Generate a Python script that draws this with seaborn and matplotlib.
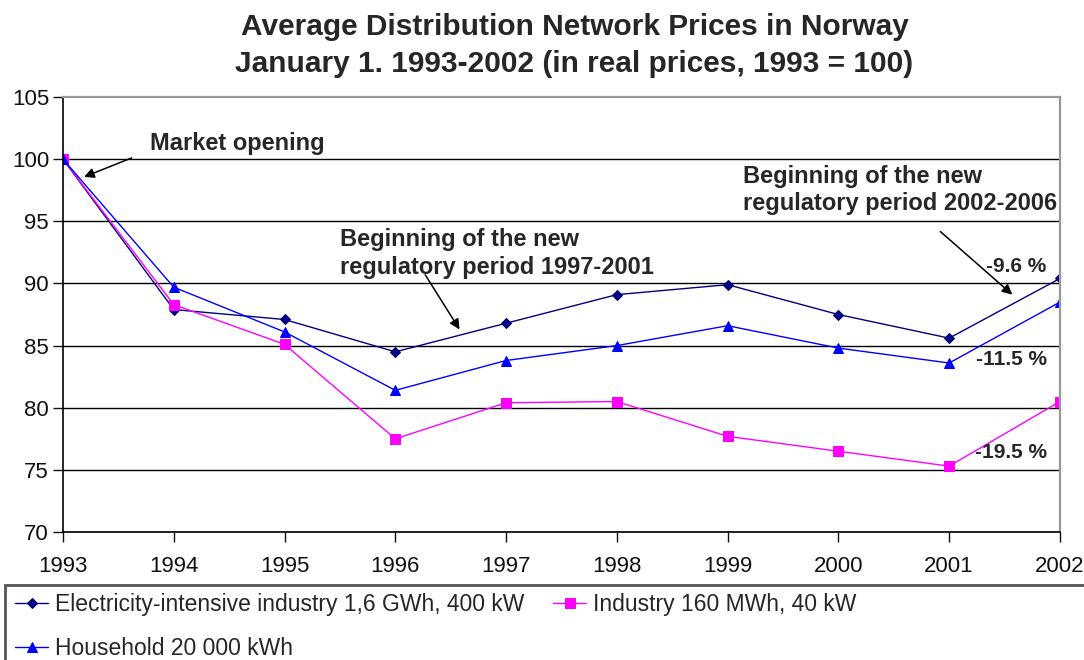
import pandas as pd
import matplotlib
matplotlib.use("Agg")
import matplotlib.pyplot as plt
import seaborn as sns
from matplotlib.patches import Rectangle

# 1. Data (1993 = 100)
years = [1993, 1994, 1995, 1996, 1997, 1998, 1999, 2000, 2001, 2002]
elec_intensive = [100, 87.9, 87.1, 84.5, 86.8, 89.1, 89.9, 87.5, 85.6, 90.4]
industry = [100, 88.3, 85.1, 77.5, 80.4, 80.5, 77.7, 76.5, 75.3, 80.5]
household = [100, 89.7, 86.1, 81.4, 83.8, 85.0, 86.6, 84.8, 83.6, 88.5]

series_names = [
    "Electricity-intensive industry 1,6 GWh, 400 kW",
    "Industry 160 MWh, 40 kW",
    "Household 20 000 kWh",
]
series_values = [elec_intensive, industry, household]
change_labels = ["-9.6 %", "-19.5 %", "-11.5 %"]

title_lines = [
    "Average Distribution Network Prices in Norway",
    "January 1. 1993-2002 (in real prices, 1993 = 100)",
]

# styles
colors = ["#000080", "#FF00FF", "#0000FF"]
markers = ["D", "s", "^"]
marker_sizes = [5.5, 7.5, 7.5]

df = pd.DataFrame({
    "year": years * 3,
    "index": elec_intensive + industry + household,
    "series": [n for n in series_names for _ in years],
})

# 2. Theme
sns.set_theme(style="white")
plt.rcParams["font.family"] = ["Liberation Sans", "DejaVu Sans"]

fig = plt.figure(figsize=(10.84, 6.6), dpi=100)
ax = fig.add_axes([0.0581, 0.1939, 0.9197, 0.6591])

for name, color, mk, ms in zip(series_names, colors, markers, marker_sizes):
    sub = df[df["series"] == name]
    sns.lineplot(data=sub, x="year", y="index", ax=ax, color=color, marker=mk,
                 markersize=ms, markeredgecolor=color, linewidth=1.0,
                 label=name, legend=False)

# 3. Axes
ax.set_xlim(1993, 2002)
ax.set_ylim(70, 105)
ax.set_xticks(years)
ax.set_yticks(range(70, 106, 5))
ax.set_xlabel("")
ax.set_ylabel("")
ax.tick_params(axis="both", labelsize=16, colors="#111111", direction="out",
               length=7, width=1, left=True, bottom=True)
ax.tick_params(axis="x", pad=10)
ax.tick_params(axis="y", pad=3)
ax.yaxis.grid(True, color="black", linewidth=1.0)
ax.set_axisbelow(True)
ax.get_ygridlines()[-1].set_visible(False)
for side in ["left", "bottom"]:
    ax.spines[side].set_color("black")
    ax.spines[side].set_linewidth(1.2)
for side in ["top", "right"]:
    ax.spines[side].set_color("#999999")
    ax.spines[side].set_linewidth(1.6)

# 4. Title
fig.text(0.530, 0.931, "\n".join(title_lines), ha="center", va="center",
         fontsize=21.5, fontweight="bold", linespacing=1.4)

# 5. Annotations
arrow_kw = dict(arrowstyle="-|>", color="black", lw=1.1, mutation_scale=15,
                shrinkA=0, shrinkB=0)
ann_size = 17
ax.text(1993.785, 101.3, "Market opening", fontsize=ann_size, fontweight="bold",
        va="center", ha="left")
ax.annotate("", xy=(1993.19, 98.57), xytext=(1993.62, 100.1), arrowprops=arrow_kw)

ax.text(1995.5, 92.4, "Beginning of the new\nregulatory period 1997-2001",
        fontsize=ann_size, fontweight="bold", va="center", ha="left", linespacing=1.25)
ax.annotate("", xy=(1996.58, 86.3), xytext=(1996.27, 90.7), arrowprops=arrow_kw)

ax.text(1999.14, 97.5, "Beginning of the new\nregulatory period 2002-2006",
        fontsize=ann_size, fontweight="bold", va="center", ha="left", linespacing=1.25)
ax.annotate("", xy=(2001.57, 89.1), xytext=(2000.92, 94.18), arrowprops=arrow_kw)

label_y = [91.4, 76.4, 83.9]
for lab, yv in zip(change_labels, label_y):
    ax.text(2001.88, yv, lab, fontsize=15, fontweight="bold", ha="right", va="center")

# 6. Legend (two entries in the first row, one in the second)
handles, labels = ax.get_legend_handles_labels()
order = [0, 2, 1]
fig.legend([handles[i] for i in order], [labels[i] for i in order],
           loc="upper left", bbox_to_anchor=(0.0138, 0.1015), ncol=2,
           frameon=False, fontsize=16.5, handlelength=1.45, handletextpad=0.3,
           columnspacing=1.25, labelspacing=0.92, borderpad=0, borderaxespad=0)
fig.patches.append(Rectangle((5 / 1084, -0.02), 1.1, 75 / 660 + 0.02,
                             transform=fig.transFigure, fill=False,
                             edgecolor="#555555", linewidth=2))

fig.savefig("out.png", dpi=100)
